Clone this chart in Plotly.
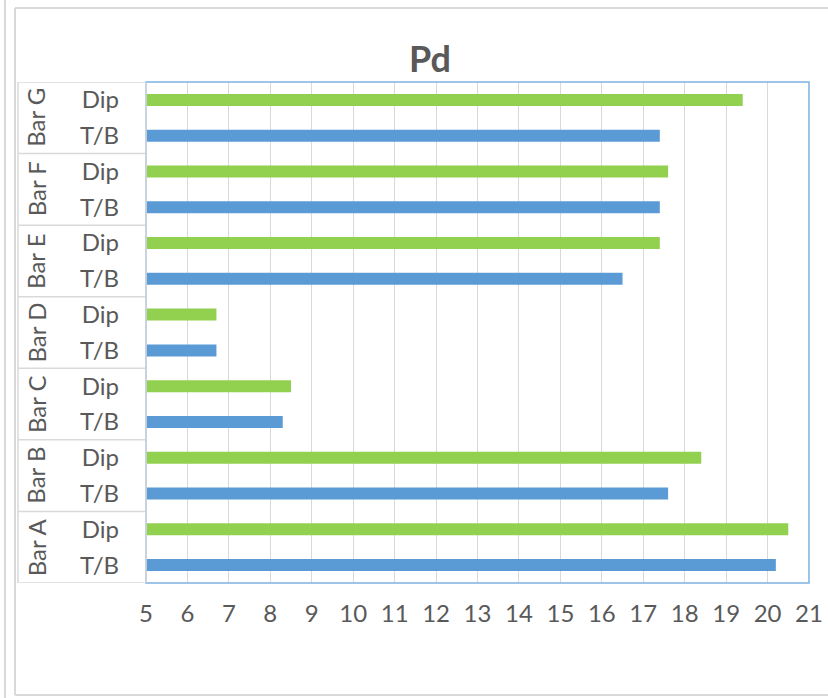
import plotly.graph_objects as go

# Pd values per bar, measured on the two sides
groups = ["Bar A", "Bar B", "Bar C", "Bar D", "Bar E", "Bar F", "Bar G"]
sub_labels = ["T/B", "Dip"]
tb_values = [20.2, 17.6, 8.3, 6.7, 16.5, 17.4, 17.4]
dip_values = [20.5, 18.4, 8.5, 6.7, 17.4, 17.6, 19.4]
x_ticks = list(range(5, 22))

W, H = 828, 698
L, R, T, B = 146, 809, 82, 583  # plot-area box in pixels

TEXT = "#595959"
GRID = "#D9D9D9"
BLUE = "#5B9BD5"
GREEN = "#92D050"
FRAME_BLUE = "#7FB1DF"
FONT = "Lato"
FS = 24


def px_x(p):
    return (p - L) / (R - L)


def px_y(q):
    return (B - q) / (B - T)


# each group occupies two rows: T/B below, Dip above
tb_rows = [2 * i for i in range(len(groups))]
dip_rows = [2 * i + 1 for i in range(len(groups))]
tick_rows = sorted(tb_rows + dip_rows)
tick_text = [sub_labels[r % 2] for r in tick_rows]

fig = go.Figure()
fig.add_trace(go.Bar(
    x=tb_values, y=tb_rows, orientation="h", name="T/B",
    marker=dict(color=BLUE, line=dict(width=0)), width=0.335,
))
fig.add_trace(go.Bar(
    x=dip_values, y=dip_rows, orientation="h", name="Dip",
    marker=dict(color=GREEN, line=dict(width=0)), width=0.335,
))

shapes = []
# outer chart frame and the neighbouring frame edge on the far left
shapes.append(dict(type="line", xref="paper", yref="paper",
                   x0=px_x(5), x1=px_x(5), y0=px_y(0), y1=px_y(H),
                   line=dict(color=GRID, width=2)))
shapes.append(dict(type="line", xref="paper", yref="paper",
                   x0=px_x(15), x1=px_x(15), y0=px_y(8), y1=px_y(695),
                   line=dict(color=GRID, width=2)))
shapes.append(dict(type="line", xref="paper", yref="paper",
                   x0=px_x(15), x1=px_x(W + 20), y0=px_y(8), y1=px_y(8),
                   line=dict(color=GRID, width=2)))
shapes.append(dict(type="line", xref="paper", yref="paper",
                   x0=px_x(15), x1=px_x(W + 20), y0=px_y(695), y1=px_y(695),
                   line=dict(color=GRID, width=2)))

# category table: left edge and group separators
shapes.append(dict(type="line", xref="paper", yref="y",
                   x0=px_x(18), x1=px_x(18), y0=-0.5, y1=2 * len(groups) - 0.5,
                   line=dict(color=GRID, width=1.5)))
for k in range(len(groups) + 1):
    yb = 2 * k - 0.5
    shapes.append(dict(type="line", xref="paper", yref="y",
                       x0=px_x(18), x1=0, y0=yb, y1=yb,
                       line=dict(color=GRID, width=1.5)))

# plot-area border (blue) with the grey category axis line on the left
shapes.append(dict(type="rect", xref="paper", yref="paper",
                   x0=0, x1=1, y0=0, y1=1,
                   line=dict(color=FRAME_BLUE, width=1.5), layer="above"))
shapes.append(dict(type="line", xref="paper", yref="paper",
                   x0=0, x1=0, y0=0, y1=1,
                   line=dict(color=GRID, width=1.5), layer="above"))

annotations = []
for i, g in enumerate(groups):
    annotations.append(dict(
        text=g, xref="paper", yref="y", x=px_x(36), y=2 * i + 0.5,
        textangle=-90, showarrow=False, xanchor="center", yanchor="middle",
        font=dict(family=FONT, size=FS, color=TEXT),
    ))

fig.update_layout(
    width=W, height=H,
    margin=dict(l=L, r=W - R, t=T, b=H - B, autoexpand=False),
    paper_bgcolor="white", plot_bgcolor="white",
    showlegend=False,
    barmode="overlay",
    title=dict(
        text="<b>Pd</b>", x=430 / W, xanchor="center", xref="container",
        y=1 - 59 / H, yanchor="middle", yref="container",
        font=dict(family=FONT, size=36, color=TEXT),
    ),
    shapes=shapes,
    annotations=annotations,
)

fig.update_xaxes(
    range=[5, 21], tickvals=x_ticks, ticktext=[str(v) for v in x_ticks],
    showgrid=True, gridcolor=GRID, gridwidth=1,
    zeroline=False, showline=False, ticks="", automargin=False,
    ticklabelstandoff=14,
    tickfont=dict(family=FONT, size=FS, color=TEXT),
)
fig.update_yaxes(
    range=[-0.5, 2 * len(groups) - 0.5],
    tickvals=tick_rows, ticktext=tick_text,
    showgrid=False, zeroline=False, showline=False, ticks="", automargin=False,
    ticklabelstandoff=26,
    tickfont=dict(family=FONT, size=FS, color=TEXT),
)

fig.write_html("out.html")
